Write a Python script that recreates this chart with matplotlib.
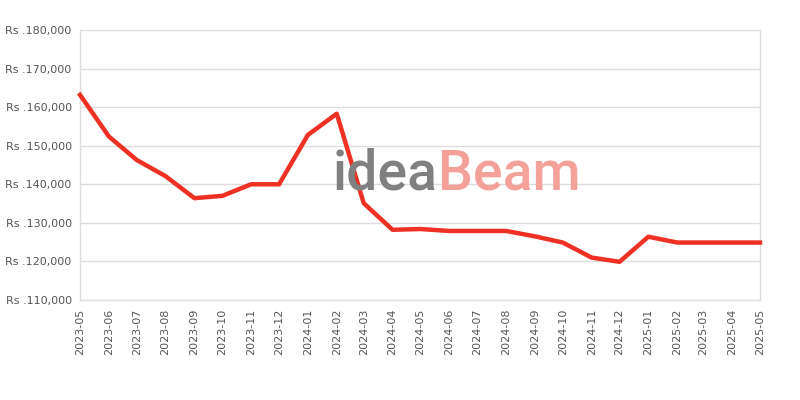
import matplotlib
matplotlib.use("Agg")
import matplotlib.pyplot as plt
import pandas as pd

months = ["2023-05", "2023-06", "2023-07", "2023-08", "2023-09", "2023-10", "2023-11",
          "2023-12", "2024-01", "2024-02", "2024-03", "2024-04", "2024-05", "2024-06",
          "2024-07", "2024-08", "2024-09", "2024-10", "2024-11", "2024-12", "2025-01",
          "2025-02", "2025-03", "2025-04", "2025-05"]
prices = [163200, 152400, 146300, 142100, 136400, 137000, 140000,
          140000, 152800, 158300, 135100, 128200, 128400, 127900,
          127900, 127900, 126500, 124900, 121000, 119900, 126400,
          124900, 124900, 124900, 124900]
y_ticks = [110000, 120000, 130000, 140000, 150000, 160000, 170000, 180000]

dates = pd.to_datetime(months)

fig = plt.figure(figsize=(8, 4), dpi=100)
ax = fig.add_axes([0.1, 0.25, 0.85, 0.675])
ax.patch.set_alpha(0)

# watermark as real text, fitted to the reference width
wm_kw = dict(family=["Roboto", "DejaVu Sans"], fontweight="medium", va="baseline",
             ha="left", zorder=0)
x0, base = 333 / 800, 1 - 190 / 400
t1 = fig.text(x0, base, "idea", color="#808080", fontsize=40, **wm_kw)
t2 = fig.text(x0, base, "Beam", color="#F4A19A", fontsize=40, **wm_kw)
fig.canvas.draw()
w1 = t1.get_window_extent().width
w2 = t2.get_window_extent().width
fs = 40 * 247.0 / (w1 + w2)
t1.set_fontsize(fs)
t2.set_fontsize(fs)
fig.canvas.draw()
t2.set_x((333 + t1.get_window_extent().width) / 800)

ax.plot(dates, prices, color="#EE3124", linewidth=3.2, zorder=3, clip_on=False)

ax.set_xlim(dates[0], dates[-1])
ax.set_ylim(110000, 180000)
ax.set_yticks(y_ticks)
ax.set_yticklabels(["Rs .{:,}".format(v) for v in y_ticks])
ax.set_xticks(dates)
ax.set_xticklabels(months, rotation=90)
ax.tick_params(axis="both", length=0, labelsize=8, colors="#555555", pad=6)
ax.grid(axis="y", color="#dddddd", linewidth=1)
for s in ax.spines.values():
    s.set_color("#dddddd")
    s.set_linewidth(1)
ax.spines["top"].set_visible(False)

fig.savefig("out.png", dpi=100)
